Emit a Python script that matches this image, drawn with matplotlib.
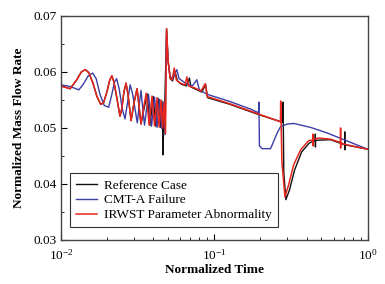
import matplotlib
matplotlib.use("Agg")
import matplotlib.pyplot as plt
from matplotlib.ticker import MultipleLocator, FormatStrFormatter

plt.rcParams['font.family'] = 'serif'
plt.rcParams['font.serif'] = ['Liberation Serif', 'DejaVu Serif']
plt.rcParams['mathtext.fontset'] = 'stix'

# IRWST parameter abnormality (red)
t_irw = [0.0100, 0.0115, 0.0127, 0.0136, 0.0144, 0.0152, 0.0162, 0.0172, 0.0182, 0.0190,
         0.0200, 0.0208, 0.0215, 0.0222, 0.0233, 0.0243, 0.0250, 0.0258, 0.0266, 0.0274,
         0.0287, 0.0300, 0.0314, 0.0323, 0.0333, 0.0346, 0.0360, 0.0368, 0.0376, 0.0393,
         0.0408, 0.0424, 0.0437, 0.0450, 0.0461, 0.0471, 0.0481, 0.0489, 0.0500, 0.0516,
         0.0531, 0.0549, 0.0565, 0.0599, 0.0646, 0.0663, 0.0681, 0.0752, 0.0820, 0.0873,
         0.0900, 0.127, 0.194, 0.270, 0.271, 0.276, 0.289, 0.305, 0.329, 0.366,
         0.411, 0.440, 0.441, 0.4415, 0.442, 0.478, 0.572, 0.665, 0.666, 0.6665,
         0.667, 0.700, 1.0]
v_irw = [0.0575, 0.0570, 0.0586, 0.0600, 0.0604, 0.0599, 0.0580, 0.0556, 0.0542, 0.0545,
         0.0565, 0.0585, 0.0593, 0.0582, 0.0550, 0.0521, 0.0535, 0.0565, 0.0580, 0.0560,
         0.0513, 0.0545, 0.0570, 0.0540, 0.0507, 0.0535, 0.0562, 0.0535, 0.0505, 0.0557,
         0.0504, 0.0554, 0.0502, 0.0550, 0.0500, 0.0545, 0.0490, 0.0677, 0.0621, 0.0589,
         0.0586, 0.0607, 0.0586, 0.0580, 0.0577, 0.0591, 0.0575, 0.0571, 0.0566, 0.0579,
         0.0556, 0.0543, 0.0525, 0.0511, 0.0548, 0.0440, 0.0377, 0.0398, 0.0434, 0.0461,
         0.0477, 0.0479, 0.0489, 0.0468, 0.0479, 0.0482, 0.0480, 0.0474, 0.0500, 0.0464,
         0.0474, 0.0471, 0.0462]

# Reference case (black)
t_ref = [0.0100, 0.0115, 0.0127, 0.0136, 0.0144, 0.0152, 0.0162, 0.0172, 0.0182, 0.0190,
         0.0200, 0.0208, 0.0215, 0.0222, 0.0233, 0.0243, 0.0250, 0.0258, 0.0266, 0.0274,
         0.0287, 0.0300, 0.0314, 0.0323, 0.0333, 0.0365, 0.0381, 0.0400, 0.0415, 0.0430,
         0.0444, 0.0456, 0.0462, 0.0464, 0.0467, 0.0475, 0.0489, 0.0500, 0.0516, 0.0535,
         0.0556, 0.0575, 0.0610, 0.0660, 0.0689, 0.0705, 0.0760, 0.0830, 0.0878, 0.0905,
         0.127, 0.194, 0.280, 0.281, 0.284, 0.293, 0.309, 0.334, 0.371, 0.416,
         0.455, 0.456, 0.4565, 0.457, 0.572, 0.708, 0.709, 0.7095, 0.710, 1.0]
v_ref = [0.0575, 0.0570, 0.0586, 0.0600, 0.0604, 0.0599, 0.0580, 0.0556, 0.0542, 0.0545,
         0.0565, 0.0585, 0.0593, 0.0582, 0.0550, 0.0521, 0.0535, 0.0565, 0.0580, 0.0560,
         0.0513, 0.0545, 0.0570, 0.0540, 0.0507, 0.0561, 0.0505, 0.0556, 0.0503, 0.0553,
         0.0501, 0.0548, 0.0520, 0.0452, 0.0500, 0.0530, 0.0677, 0.0621, 0.0588, 0.0584,
         0.0600, 0.0584, 0.0578, 0.0575, 0.0589, 0.0573, 0.0569, 0.0564, 0.0578, 0.0554,
         0.0542, 0.0524, 0.0510, 0.0546, 0.0420, 0.0372, 0.0389, 0.0425, 0.0457, 0.0473,
         0.0478, 0.0489, 0.0466, 0.0478, 0.0479, 0.0470, 0.0493, 0.0461, 0.0470, 0.0462]

# CMT-A failure (blue)
t_cmt = [0.0100, 0.0115, 0.0131, 0.0140, 0.0150, 0.0161, 0.0170, 0.0180, 0.0192, 0.0205,
         0.0215, 0.0224, 0.0231, 0.0240, 0.0251, 0.0262, 0.0272, 0.0283, 0.0294, 0.0315,
         0.0324, 0.0333, 0.0342, 0.0351, 0.0373, 0.0390, 0.0408, 0.0424, 0.0440, 0.0454,
         0.0466, 0.0478, 0.0489, 0.0500, 0.0516, 0.0535, 0.0570, 0.0590, 0.0650, 0.0720,
         0.0770, 0.0800, 0.0900, 0.127, 0.175, 0.194, 0.1955, 0.197, 0.205, 0.233,
         0.243, 0.257, 0.270, 0.299, 0.330, 0.424, 0.545, 0.700, 1.0]
v_cmt = [0.0577, 0.0574, 0.0568, 0.0578, 0.0592, 0.0598, 0.0588, 0.0560, 0.0540, 0.0537,
         0.0560, 0.0582, 0.0588, 0.0570, 0.0535, 0.0516, 0.0545, 0.0577, 0.0560, 0.0509,
         0.0540, 0.0567, 0.0535, 0.0505, 0.0560, 0.0503, 0.0555, 0.0501, 0.0551, 0.0499,
         0.0546, 0.0488, 0.0672, 0.0618, 0.0592, 0.0588, 0.0604, 0.0588, 0.0580, 0.0575,
         0.0586, 0.0568, 0.0560, 0.0547, 0.0533, 0.0527, 0.0546, 0.0468, 0.0463, 0.0463,
         0.0475, 0.0491, 0.0502, 0.0507, 0.0508, 0.0501, 0.0491, 0.0479, 0.0462]

y_ticks = [0.03, 0.04, 0.05, 0.06, 0.07]

fig = plt.figure(figsize=(3.85, 2.84), dpi=100)
ax = fig.add_subplot(111)
fig.subplots_adjust(left=0.158, right=0.955, top=0.944, bottom=0.155)

ax.plot(t_ref, v_ref, color='#111111', lw=1.0, label='Reference Case')
ax.plot(t_cmt, v_cmt, color='#3a3fa6', lw=1.0, label='CMT-A Failure')
ax.plot(t_irw, v_irw, color='#e8261c', lw=1.1, label='IRWST Parameter Abnormality')

ax.set_xscale('log')
ax.set_xlim(0.01, 1.0)
ax.set_ylim(0.03, 0.07)
ax.set_yticks(y_ticks)
ax.yaxis.set_minor_locator(MultipleLocator(0.005))
ax.yaxis.set_major_formatter(FormatStrFormatter('%.2f'))

ax.tick_params(which='both', direction='in', top=False, right=False, labelsize=9.5)
ax.tick_params(axis='y', pad=3)
ax.tick_params(axis='x', pad=6)
ax.tick_params(which='major', length=4, width=0.8)
ax.tick_params(which='minor', length=2, width=0.6)
for s in ax.spines.values():
    s.set_color('#444444')
    s.set_linewidth(1.0)

ax.set_xlabel('Normalized Time', fontsize=9.5, fontweight='bold', labelpad=1)
ax.set_ylabel('Normalized Mass Flow Rate', fontsize=9.5, fontweight='bold', labelpad=6)

leg = ax.legend(loc='lower left', bbox_to_anchor=(0.029, 0.057), borderaxespad=0,
                fontsize=9.5, fancybox=False, framealpha=1, edgecolor='#333333',
                handlelength=1.65, handletextpad=0.5, labelspacing=0.2, borderpad=0.45)
leg.get_frame().set_linewidth(0.8)

fig.savefig('out.png', dpi=100)
